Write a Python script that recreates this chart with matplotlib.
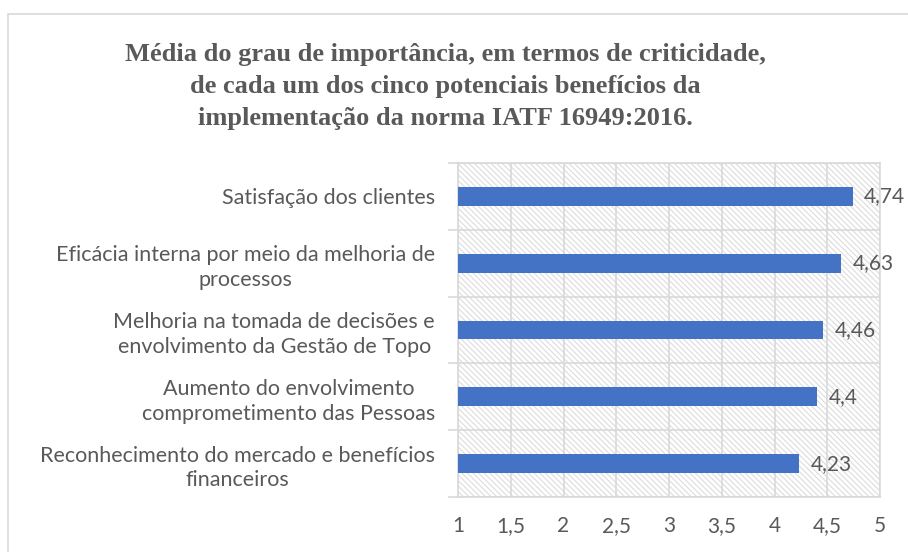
import matplotlib.pyplot as plt
from matplotlib.patches import Rectangle
import numpy as np

# Data (bottom to top as drawn)
categories = [
    "Reconhecimento do mercado e benefícios\nfinanceiros",
    "Aumento do envolvimento\ncomprometimento das Pessoas",
    "Melhoria na tomada de decisões e\nenvolvimento da Gestão de Topo",
    "Eficácia interna por meio da melhoria de\nprocessos",
    "Satisfação dos clientes",
]
values = [4.23, 4.4, 4.46, 4.63, 4.74]
value_labels = ["4,23", "4,4", "4,46", "4,63", "4,74"]
xticks = [1, 1.5, 2, 2.5, 3, 3.5, 4, 4.5, 5]
xtick_labels = ["1", "1,5", "2", "2,5", "3", "3,5", "4", "4,5", "5"]

title = ("Média do grau de importância, em termos de criticidade,\n"
         "de cada um dos cinco potenciais benefícios da\n"
         "implementação da norma IATF 16949:2016.")

text_color = "#595959"
grid_color = "#d9d9d9"
bar_color = "#4472c4"

plt.rcParams['font.family'] = ['Lato', 'DejaVu Sans']
plt.rcParams['hatch.color'] = '#dcdcdc'
plt.rcParams['hatch.linewidth'] = 0.8

fig = plt.figure(figsize=(9.08, 5.52), dpi=100)

# outer chart border
fig.patches.append(Rectangle((8 / 908, -0.1), 1.1, 1 - 14 / 552 + 0.1,
                             transform=fig.transFigure, fill=False,
                             edgecolor=grid_color, linewidth=1.2))

ax = fig.add_axes([458 / 908, 1 - 497 / 552, 422 / 908, 334 / 552])

y = np.arange(len(categories))

# hatched plot area background
ax.add_patch(Rectangle((0, 0), 1, 1, transform=ax.transAxes, facecolor='white',
                       hatch='\\\\\\\\\\\\', edgecolor='#dcdcdc', linewidth=0, zorder=0))

ax.barh(y, np.array(values) - 1, left=1, height=0.28, color=bar_color, zorder=3)

for yi, v, lab in zip(y, values, value_labels):
    ax.text(v + 0.11, yi, lab, va='center', ha='left', fontsize=15, color=text_color, zorder=4)

ax.set_xlim(1, 5)
ax.set_ylim(-0.5, len(categories) - 0.5)

ax.set_xticks(xticks)
ax.set_xticklabels(xtick_labels, fontsize=15, color=text_color)
ax.tick_params(axis='x', length=0, pad=14)

ax.set_yticks(y)
ax.set_yticklabels(categories, fontsize=15.5, color=text_color, multialignment='center',
                   linespacing=1.3)
ax.tick_params(axis='y', length=0, pad=16.5)
ax.set_yticks(np.arange(-0.5, len(categories), 1), minor=True)
ax.tick_params(axis='y', which='minor', length=7, color=grid_color, width=1.2)

ax.grid(axis='x', which='major', color=grid_color, linewidth=1.2, zorder=1)
ax.grid(axis='y', which='minor', color=grid_color, linewidth=1.2, zorder=1)
ax.set_axisbelow(True)

for s in ax.spines.values():
    s.set_color(grid_color)
    s.set_linewidth(1.2)

fig.text(0.5 * (121 + 770) / 908, 1 - 86.5 / 552, title, ha='center', va='center',
         fontsize=19, fontweight='bold', color=text_color,
         family=['Liberation Serif', 'DejaVu Serif'], linespacing=1.5)

fig.savefig("out.png", dpi=100)
